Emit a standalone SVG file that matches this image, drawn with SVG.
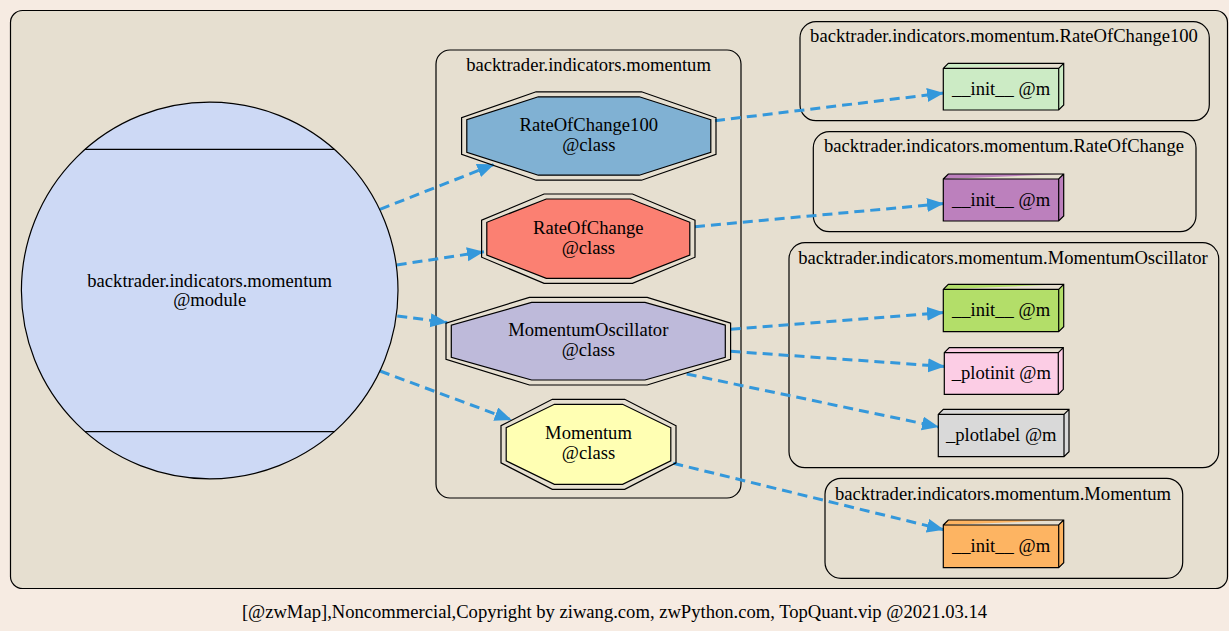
<svg xmlns="http://www.w3.org/2000/svg" width="1229" height="631" viewBox="0 0 1229 631">
<defs>
<style>
text{font-family:"Liberation Serif","Times New Roman",serif;font-size:18.6px;fill:#000;text-anchor:middle}
.cl{fill:none;stroke:#000;stroke-width:1.2}
.oct{stroke:#000;stroke-width:1.2}
.box{stroke:#000;stroke-width:1.2}
.e{stroke:#3498db;stroke-width:3;stroke-dasharray:10,6;fill:none}
</style>
<marker id="ah" markerUnits="userSpaceOnUse" markerWidth="18" markerHeight="15" refX="17" refY="7" orient="auto">
<path d="M0,0 L17,7 L0,14 Z" fill="#3498db"/>
</marker>
</defs>
<rect x="0" y="0" width="1229" height="631" fill="#f6ebe2"/>
<rect x="10.5" y="10.5" width="1217" height="578" rx="12" fill="#e6dfd0" stroke="#000" stroke-width="1.2"/>
<g id="clusters">
<rect class="cl" x="436" y="50" width="305" height="448" rx="14"/>
<text x="588.5" y="71">backtrader.indicators.momentum</text>
<rect class="cl" x="800" y="21.7" width="409.3" height="99" rx="16"/>
<text x="1004" y="42">backtrader.indicators.momentum.RateOfChange100</text>
<rect class="cl" x="813.3" y="131.7" width="382.7" height="100" rx="16"/>
<text x="1004" y="152">backtrader.indicators.momentum.RateOfChange</text>
<rect class="cl" x="789" y="242.7" width="429.7" height="225" rx="16"/>
<text x="1003" y="264">backtrader.indicators.momentum.MomentumOscillator</text>
<rect class="cl" x="825" y="478.3" width="357.7" height="100" rx="16"/>
<text x="1003" y="499.5">backtrader.indicators.momentum.Momentum</text>
</g>
<g id="edges">
<line class="e" x1="380" y1="209.3" x2="494.3" y2="164.3" marker-end="url(#ah)"/>
<line class="e" x1="396.7" y1="265" x2="484" y2="251.7" marker-end="url(#ah)"/>
<line class="e" x1="397.3" y1="316" x2="447.3" y2="322.5" marker-end="url(#ah)"/>
<line class="e" x1="380" y1="371" x2="511.7" y2="420" marker-end="url(#ah)"/>
<line class="e" x1="715" y1="120.7" x2="944" y2="93" marker-end="url(#ah)"/>
<line class="e" x1="695" y1="226.7" x2="944" y2="203.5" marker-end="url(#ah)"/>
<line class="e" x1="730.7" y1="329.3" x2="944" y2="312.5" marker-end="url(#ah)"/>
<line class="e" x1="730.7" y1="351.3" x2="945" y2="366.5" marker-end="url(#ah)"/>
<line class="e" x1="686.7" y1="374" x2="939" y2="427" marker-end="url(#ah)"/>
<line class="e" x1="673.3" y1="463.3" x2="944" y2="529.8" marker-end="url(#ah)"/>
</g>
<g id="module">
<circle cx="209.7" cy="290.5" r="188.3" fill="#cdd9f5" stroke="#000" stroke-width="1.2"/>
<line x1="85" y1="149.3" x2="334.4" y2="149.3" stroke="#000" stroke-width="1.2"/>
<line x1="85" y1="431.7" x2="334.4" y2="431.7" stroke="#000" stroke-width="1.2"/>
<text x="209.7" y="286.5">backtrader.indicators.momentum</text>
<text x="209.7" y="306">@module</text>
</g>
<g id="RateOfChange100">
<polygon class="oct" fill="none" points="716,117.7 641.5,91.8 536.1,91.8 461.6,117.7 461.6,154.3 536.1,180.2 641.5,180.2 716,154.3"/>
<polygon class="oct" fill="#80b1d3" points="710.8,119.8 639.3,96.8 538.3,96.8 466.8,119.8 466.8,152.2 538.3,175.2 639.3,175.2 710.8,152.2"/>
<text x="588.8" y="131">RateOfChange100</text>
<text x="588.8" y="150.5">@class</text>
</g>
<g id="RateOfChange">
<polygon class="oct" fill="none" points="695,220.2 632.5,194 544.1,194 481.6,220.2 481.6,257.2 544.1,283.4 632.5,283.4 695,257.2"/>
<polygon class="oct" fill="#fb8072" points="689.8,222.3 630.3,199 546.3,199 486.8,222.3 486.8,255.1 546.3,278.4 630.3,278.4 689.8,255.1"/>
<text x="588.3" y="234">RateOfChange</text>
<text x="588.3" y="253.5">@class</text>
</g>
<g id="MomentumOscillator">
<polygon class="oct" fill="none" points="730.6,323.1 647.2,297.4 529.4,297.4 446,323.1 446,359.3 529.4,385 647.2,385 730.6,359.3"/>
<polygon class="oct" fill="#bebada" points="725.3,325.1 645,302.4 531.6,302.4 451.3,325.1 451.3,357.3 531.6,380 645,380 725.3,357.3"/>
<text x="588.3" y="336">MomentumOscillator</text>
<text x="588.3" y="355.5">@class</text>
</g>
<g id="Momentum">
<polygon class="oct" fill="none" points="676,425.7 624.7,399.3 552.3,399.3 501,425.7 501,462.9 552.3,489.3 624.7,489.3 676,462.9"/>
<polygon class="oct" fill="#ffffb3" points="670.8,427.7 622.6,404.3 554.4,404.3 506.2,427.7 506.2,460.9 554.4,484.3 622.6,484.3 670.8,460.9"/>
<text x="588.5" y="439">Momentum</text>
<text x="588.5" y="458.5">@class</text>
</g>
<g id="R100_init">
<path class="box" fill="#ccebc5" d="M943.3,68.3 L948.3,63.3 L1063.7,63.3 L1063.7,105 L1058.7,110 L943.3,110 Z M943.3,68.3 L1058.7,68.3 L1063.7,63.3 M1058.7,68.3 L1058.7,110"/>
<text x="1001" y="95">__init__ @m</text>
</g>
<g id="ROC_init">
<path class="box" fill="#bc80bd" d="M943.3,179 L948.3,174 L1063.7,174 L1063.7,216 L1058.7,221 L943.3,221 Z M943.3,179 L1058.7,179 L1063.7,174 M1058.7,179 L1058.7,221"/>
<text x="1001" y="205.5">__init__ @m</text>
</g>
<g id="MO_init">
<path class="box" fill="#b3de69" d="M943.3,289.3 L948.3,284.3 L1063.7,284.3 L1063.7,326.7 L1058.7,331.7 L943.3,331.7 Z M943.3,289.3 L1058.7,289.3 L1063.7,284.3 M1058.7,289.3 L1058.7,331.7"/>
<text x="1001" y="316">__init__ @m</text>
</g>
<g id="MO_plotinit">
<path class="box" fill="#fccde5" d="M944.3,352.7 L949.3,347.7 L1063.3,347.7 L1063.3,389.3 L1058.3,394.3 L944.3,394.3 Z M944.3,352.7 L1058.3,352.7 L1063.3,347.7 M1058.3,352.7 L1058.3,394.3"/>
<text x="1001.3" y="379">_plotinit @m</text>
</g>
<g id="MO_plotlabel">
<path class="box" fill="#d9d9d9" d="M938.3,414.3 L943.3,409.3 L1069,409.3 L1069,451.7 L1064,456.7 L938.3,456.7 Z M938.3,414.3 L1064,414.3 L1069,409.3 M1064,414.3 L1064,456.7"/>
<text x="1001.2" y="441">_plotlabel @m</text>
</g>
<g id="M_init">
<path class="box" fill="#fdb462" d="M943.3,525 L948.3,520 L1063.7,520 L1063.7,562.7 L1058.7,567.7 L943.3,567.7 Z M943.3,525 L1058.7,525 L1063.7,520 M1058.7,525 L1058.7,567.7"/>
<text x="1001" y="552">__init__ @m</text>
</g>
<text x="614.5" y="618">[@zwMap],Noncommercial,Copyright by ziwang.com, zwPython.com, TopQuant.vip @2021.03.14</text>
</svg>
